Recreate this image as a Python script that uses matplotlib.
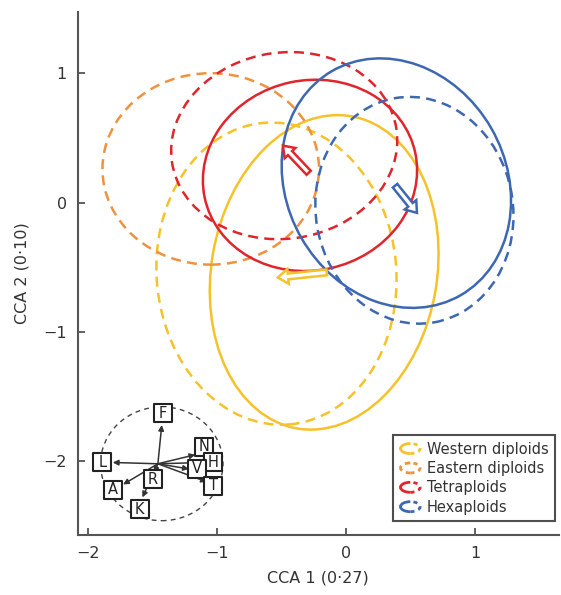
import matplotlib
matplotlib.use('Agg')
import matplotlib.pyplot as plt
from matplotlib.patches import Ellipse, Arc, FancyArrow
from matplotlib.lines import Line2D
from matplotlib.legend_handler import HandlerBase

# group names and colours
groups = ['Western diploids', 'Eastern diploids', 'Tetraploids', 'Hexaploids']
colors = ['#F6C22B', '#EF9240', '#E1252C', '#3D68B1']

# ellipses: group index, centre x, centre y, width, height, angle, dashed?
ell_group = [0, 0, 1, 2, 2, 3, 3]
ell_cx = [-0.17, -0.54, -1.05, -0.28, -0.48, 0.39, 0.53]
ell_cy = [-0.54, -0.55, 0.26, 0.21, 0.44, 0.15, -0.06]
ell_w = [1.75, 1.86, 1.68, 1.67, 1.76, 1.70, 1.53]
ell_h = [2.45, 2.34, 1.48, 1.47, 1.44, 2.00, 1.76]
ell_ang = [-10, 5, 0, 12, 8, 30, 10]
ell_dash = [False, True, True, False, True, False, True]

# shift arrows (solid -> dashed centre)
shift_group = [0, 2, 3]
shift_x0 = [-0.15, -0.29, 0.38]
shift_y0 = [-0.54, 0.23, 0.13]
shift_x1 = [-0.53, -0.49, 0.55]
shift_y1 = [-0.58, 0.44, -0.08]

# variable biplot inset
bi_origin = (-1.46, -2.02)
bi_circle = (-1.43, -2.02, 0.95, 0.88)
var_names = ['F', 'L', 'A', 'R', 'K', 'N', 'H', 'V', 'T']
tip_x = [-1.43, -1.81, -1.73, -1.49, -1.58, -1.17, -1.10, -1.22, -1.08]
tip_y = [-1.72, -2.01, -2.18, -2.09, -2.28, -1.95, -2.01, -2.06, -2.16]
lab_x = [-1.42, -1.89, -1.81, -1.50, -1.60, -1.10, -1.03, -1.16, -1.03]
lab_y = [-1.63, -2.01, -2.22, -2.14, -2.37, -1.89, -2.01, -2.06, -2.19]


class HalfDashHandler(HandlerBase):
    def __init__(self, all_dashed=False):
        super().__init__()
        self.all_dashed = all_dashed

    def create_artists(self, legend, orig_handle, xdescent, ydescent,
                       width, height, fontsize, trans):
        cx = width / 2 - xdescent
        cy = height / 2 - ydescent
        c = orig_handle.get_color()
        ls_left = (0, (2, 1.5)) if self.all_dashed else '-'
        left = Arc((cx, cy), width * 0.9, height * 0.9, theta1=90, theta2=270,
                   color=c, lw=2.0, ls=ls_left, transform=trans)
        right = Arc((cx, cy), width * 0.9, height * 0.9, theta1=-90, theta2=90,
                    color=c, lw=2.0, ls=(0, (1.5, 1.5)), transform=trans)
        return [left, right]


fig = plt.figure(figsize=(5.61, 5.95), dpi=100)
ax = fig.add_axes([0.139, 0.101, 0.857, 0.879])

for g, cx, cy, w, h, a, d in zip(ell_group, ell_cx, ell_cy, ell_w, ell_h, ell_ang, ell_dash):
    e = Ellipse((cx, cy), w, h, angle=a, fill=False, ec=colors[g], lw=1.8,
                ls=(0, (4, 2.5)) if d else '-')
    ax.add_patch(e)

for g, x0, y0, x1, y1 in zip(shift_group, shift_x0, shift_y0, shift_x1, shift_y1):
    ar = FancyArrow(x0, y0, x1 - x0, y1 - y0, width=0.045, head_width=0.115,
                    head_length=0.08, length_includes_head=True,
                    fc='white', ec=colors[g], lw=1.8, zorder=5)
    ax.add_patch(ar)

# inset of variable loadings
ax.add_patch(Ellipse(bi_circle[:2], bi_circle[2], bi_circle[3], fill=False,
                     ec='#444444', lw=1.0, ls=(0, (3.5, 3))))
for tx, ty in zip(tip_x, tip_y):
    ax.annotate('', xy=(tx, ty), xytext=bi_origin,
                arrowprops=dict(arrowstyle='-|>', lw=1.1, color='#333333',
                                shrinkA=0, shrinkB=0, mutation_scale=8))
ax.scatter(lab_x, lab_y, marker='s', s=150, facecolor='white',
           edgecolor='#222222', linewidths=1.5, zorder=6)
for name, lx, ly in zip(var_names, lab_x, lab_y):
    ax.text(lx, ly, name, ha='center', va='center', fontsize=10.5,
            color='#222222', zorder=7)

ax.set_xlim(-2.08, 1.65)
ax.set_ylim(-2.57, 1.474)
ax.set_xticks([-2, -1, 0, 1])
ax.set_yticks([-2, -1, 0, 1])
ax.set_xticklabels(['\u22122', '\u22121', '0', '1'])
ax.set_yticklabels(['\u22122', '\u22121', '0', '1'])
for s in ['top', 'right']:
    ax.spines[s].set_visible(False)
for s in ['left', 'bottom']:
    ax.spines[s].set_color('#555555')
    ax.spines[s].set_linewidth(1.5)
ax.tick_params(direction='in', length=5, width=1.3, color='#555555',
               labelsize=11.5, labelcolor='#333333', pad=8)
ax.set_xlabel('CCA 1 (0\u00b727)', fontsize=11.5, color='#333333', labelpad=7)
ax.set_ylabel('CCA 2 (0\u00b710)', fontsize=11.5, color='#333333', labelpad=10)

handles = [Line2D([], [], color=c) for c in colors]
hmap = {h: HalfDashHandler(all_dashed=(i == 1)) for i, h in enumerate(handles)}
leg = ax.legend(handles, groups, handler_map=hmap, loc='lower right',
                bbox_to_anchor=(0.993, 0.026), fontsize=10.5, frameon=True,
                fancybox=False, edgecolor='#222222', handlelength=1.5,
                handleheight=0.8, handletextpad=0.4, labelspacing=0.3,
                borderpad=0.45, borderaxespad=0)
leg.get_frame().set_linewidth(1.5)
for t in leg.get_texts():
    t.set_color('#333333')

fig.savefig('out.png', dpi=100)
